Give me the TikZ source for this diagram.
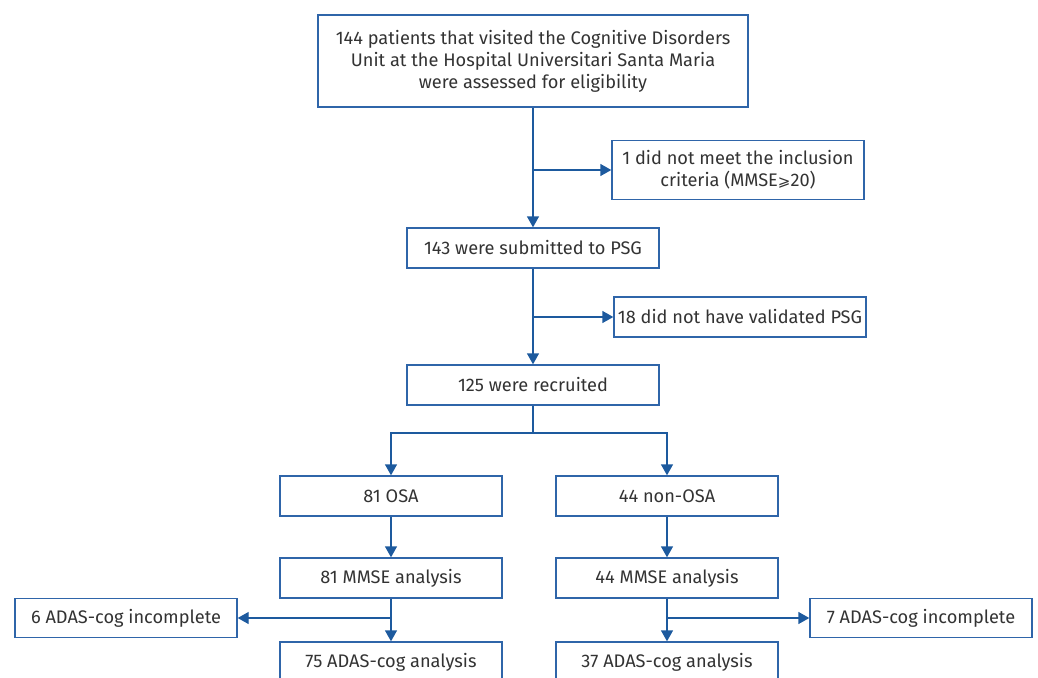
\documentclass[tikz,border=0pt]{standalone}
\usepackage{fontspec}
\setmainfont{Fira Sans}
\newfontfamily\symfont{DejaVu Sans}
\usetikzlibrary{arrows.meta}
\definecolor{boxblue}{HTML}{2F65A9}
\definecolor{lineblue}{HTML}{1D5A9E}
\definecolor{txtgray}{HTML}{333333}
\tikzset{
	box/.style={draw=boxblue,line width=1.4pt,fill=white,text=txtgray,align=center,
		inner sep=0pt,font=\fontsize{18.2}{22}\selectfont},
	arr/.style={lineblue,line width=1.4pt,-{Triangle[width=12pt,length=11pt]}},
	ln/.style={lineblue,line width=1.4pt}
}
\begin{document}
\begin{tikzpicture}[x=1pt,y=-1pt]
	    \useasboundingbox (0,0) rectangle (1038,677);
	    \clip (0,0) rectangle (1038,677);
	    \node[box,minimum width=430pt,minimum height=92pt] (start) at (533,61) {144 patients that visited the Cognitive Disorders\\Unit at the Hospital Universitari Santa Maria\\were assessed for eligibility};
	    \node[box,minimum width=252pt,minimum height=59pt] (excl1) at (738,170) {1 did not meet the inclusion\\criteria (MMSE{\symfont\fontsize{15}{22}\selectfont ⩾}20)};
	    \node[box,minimum width=252pt,minimum height=40pt] (psg) at (533,248) {143 were submitted to PSG};
	    \node[box,minimum width=252pt,minimum height=40pt] (excl2) at (740,317) {18 did not have validated PSG};
	    \node[box,minimum width=252pt,minimum height=40pt] (recr) at (533,385) {125 were recruited};
	    \coordinate (split) at (533,433);
	    
	    \node[box,minimum width=222pt,minimum height=40pt] (osa) at (391,496) {81 OSA};
	    \node[box,minimum width=222pt,minimum height=40pt] (nonosa) at (667,496) {44 non-OSA};
	    \node[box,minimum width=222pt,minimum height=40pt] (mmseA) at (391,578) {81 MMSE analysis};
	    \node[box,minimum width=222pt,minimum height=40pt] (mmseB) at (667,578) {44 MMSE analysis};
	    \node[box,minimum width=222pt,minimum height=39pt] (incA) at (126,618) {6 ADAS-cog incomplete};
	    \node[box,minimum width=222pt,minimum height=39pt] (incB) at (921,618) {7 ADAS-cog incomplete};
	    \node[box,minimum width=222pt,minimum height=40pt] (adasA) at (391,662) {75 ADAS-cog analysis};
	    \node[box,minimum width=222pt,minimum height=40pt] (adasB) at (667,662) {37 ADAS-cog analysis};
	    
	    \draw[arr] (start.south) -- (psg.north);
	    \draw[arr] (start.south |- excl1.west) -- (excl1.west);
	    \draw[arr] (psg.south) -- (recr.north);
	    \draw[arr] (psg.south |- excl2.west) -- (excl2.west);
	    \draw[ln] (recr.south) -- (split);
	    \draw[arr] (split) -| (osa.north);
	    \draw[arr] (split) -| (nonosa.north);
	    \draw[arr] (osa.south) -- (mmseA.north);
	    \draw[arr] (nonosa.south) -- (mmseB.north);
	    \draw[arr] (mmseA.south) -- (adasA.north);
	    \draw[arr] (mmseA.south |- incA.east) -- (incA.east);
	    \draw[arr] (mmseB.south) -- (adasB.north);
	    \draw[arr] (mmseB.south |- incB.west) -- (incB.west);
\end{tikzpicture}
\end{document}
